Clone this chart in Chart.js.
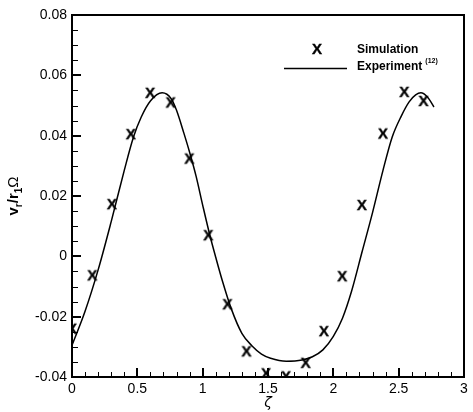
<!DOCTYPE html>
<html>
<head>
<meta charset="utf-8">
<script src="https://cdn.jsdelivr.net/npm/chart.js@4.4.0/dist/chart.umd.min.js"></script>
<style>
html,body{margin:0;padding:0;background:#fff;}
#wrap{width:473px;height:412px;}
</style>
</head>
<body>
<div id="wrap"><canvas id="c" width="473" height="412"></canvas></div>
<script>
// ---- data ----
const simX = [0.0, 0.155, 0.305, 0.45, 0.598, 0.755, 0.898, 1.043, 1.19, 1.335, 1.485, 1.638, 1.788, 1.928, 2.068, 2.218, 2.38, 2.543, 2.69];
const simY = [-0.024, -0.0063, 0.0173, 0.0405, 0.0542, 0.051, 0.0324, 0.007, -0.0159, -0.0315, -0.0388, -0.0398, -0.0353, -0.0248, -0.0066, 0.017, 0.0407, 0.0545, 0.0515];
const expX = [0, 0.1, 0.2, 0.3, 0.4, 0.47, 0.53, 0.6, 0.69, 0.76, 0.8, 0.855, 0.9, 0.95, 1.0, 1.055, 1.1, 1.15, 1.22, 1.3, 1.38, 1.45, 1.52, 1.64, 1.76, 1.84, 1.92, 2.0, 2.07, 2.14, 2.22, 2.3, 2.38, 2.45, 2.52, 2.58, 2.63, 2.67, 2.72, 2.77];
const expY = [-0.0295, -0.0182, -0.0045, 0.0115, 0.0285, 0.0395, 0.0462, 0.0515, 0.0542, 0.0522, 0.0484, 0.041, 0.0345, 0.0265, 0.017, 0.007, -0.0003, -0.008, -0.0175, -0.0255, -0.0298, -0.0324, -0.0338, -0.0348, -0.0344, -0.0333, -0.031, -0.0265, -0.0205, -0.0115, 0.0015, 0.0145, 0.0285, 0.0395, 0.0465, 0.0512, 0.0535, 0.0542, 0.0528, 0.0495];
const xTickLabels = ['0', '0.5', '1', '1.5', '2', '2.5', '3'];
const yTickLabels = ['-0.04', '-0.02', '0', '0.02', '0.04', '0.06', '0.08'];
const xMajor = [0, 0.5, 1, 1.5, 2, 2.5, 3];
const yMajor = [-0.04, -0.02, 0, 0.02, 0.04, 0.06, 0.08];
const xMinorStep = 0.1;
const yMinorStep = 0.005;
const legendLabels = ['Simulation', 'Experiment'];

// X marker glyph
const mk = document.createElement('canvas');
mk.width = 16; mk.height = 16;
(function(){
  const g = mk.getContext('2d');
  g.fillStyle = '#000';
  g.strokeStyle = '#000';
  g.lineWidth = 0.4;
  g.font = 'bold 15px "Liberation Sans", Arial, sans-serif';
  g.textAlign = 'center';
  g.textBaseline = 'middle';
  g.fillText('X', 8, 8.5);
  g.strokeText('X', 8, 8.5);
})();

const decorations = {
  id: 'decorations',
  afterDraw(chart) {
    const ctx = chart.ctx;
    const a = chart.chartArea;
    const xs = chart.scales.x, ys = chart.scales.y;
    ctx.save();
    ctx.strokeStyle = '#000';
    // minor ticks
    ctx.lineWidth = 1;
    ctx.beginPath();
    for (let i = 0; i <= 30; i++) {
      const v = i * xMinorStep;
      if (i % 5 === 0) continue;
      const px = Math.round(xs.getPixelForValue(v)) + 0.5;
      ctx.moveTo(px, a.bottom); ctx.lineTo(px, a.bottom - 5);
    }
    for (let i = 0; i <= 24; i++) {
      const v = -0.04 + i * yMinorStep;
      if (i % 4 === 0) continue;
      const py = Math.round(ys.getPixelForValue(v)) + 0.5;
      ctx.moveTo(a.left, py); ctx.lineTo(a.left + 6, py);
    }
    ctx.stroke();
    // major ticks
    ctx.lineWidth = 2;
    ctx.beginPath();
    xMajor.forEach(v => {
      const px = Math.round(xs.getPixelForValue(v));
      ctx.moveTo(px, a.bottom); ctx.lineTo(px, a.bottom - 9);
    });
    yMajor.forEach(v => {
      const py = Math.round(ys.getPixelForValue(v));
      ctx.moveTo(a.left, py); ctx.lineTo(a.left + 9, py);
    });
    ctx.stroke();
    // frame
    ctx.lineWidth = 2;
    ctx.strokeRect(a.left, a.top, a.right - a.left, a.bottom - a.top);

    // legend
    ctx.fillStyle = '#000';
    ctx.drawImage(mk, 309, 41);
    ctx.font = 'bold 12px "Liberation Sans", Arial, sans-serif';
    ctx.textAlign = 'left';
    ctx.textBaseline = 'middle';
    ctx.fillText(legendLabels[0], 357, 50);
    ctx.fillText(legendLabels[1], 357, 67);
    const w = ctx.measureText(legendLabels[1]).width;
    ctx.font = 'bold 7px "Liberation Sans", Arial, sans-serif';
    ctx.fillText('(12)', 357 + w + 3, 61);
    ctx.lineWidth = 1.5;
    ctx.beginPath();
    ctx.moveTo(284, 68.5); ctx.lineTo(347, 68.5);
    ctx.stroke();

    // y title
    ctx.save();
    ctx.translate(13, (a.top + a.bottom) / 2);
    ctx.rotate(-Math.PI / 2);
    const parts = [
      ['v', 'bold 15px "Liberation Sans", Arial, sans-serif', 0],
      ['r', 'bold 10px "Liberation Sans", Arial, sans-serif', 4],
      ['/r', 'bold 15px "Liberation Sans", Arial, sans-serif', 0],
      ['1', 'bold 10px "Liberation Sans", Arial, sans-serif', 4],
      ['\u03A9', '15px "Liberation Sans", Arial, sans-serif', 0]
    ];
    let total = 0;
    parts.forEach(p => { ctx.font = p[1]; total += ctx.measureText(p[0]).width; });
    let cx = -total / 2;
    ctx.textAlign = 'left';
    ctx.textBaseline = 'alphabetic';
    parts.forEach(p => {
      ctx.font = p[1];
      ctx.fillText(p[0], cx, 5 + p[2]);
      cx += ctx.measureText(p[0]).width;
    });
    ctx.restore();

    // x title
    ctx.font = 'italic 14px "DejaVu Sans", sans-serif';
    ctx.textAlign = 'center';
    ctx.textBaseline = 'middle';
    ctx.fillText('\u03B6', (a.left + a.right) / 2, 403);
    ctx.restore();
  }
};

const tickFont = { family: '"Liberation Sans", Arial, sans-serif', size: 14 };

new Chart(document.getElementById('c'), {
  type: 'scatter',
  data: {
    datasets: [
      {
        label: legendLabels[0],
        data: simX.map((x, i) => ({ x, y: simY[i] })),
        pointStyle: mk,
        pointRadius: 8,
        showLine: false
      },
      {
        label: legendLabels[1],
        data: expX.map((x, i) => ({ x, y: expY[i] })),
        showLine: true,
        borderColor: '#000',
        borderWidth: 1.5,
        pointRadius: 0,
        cubicInterpolationMode: 'monotone',
        fill: false
      }
    ]
  },
  options: {
    responsive: false,
    devicePixelRatio: 1,
    animation: false,
    layout: { padding: { top: 15, right: 5, left: 0, bottom: 0 } },
    plugins: { legend: { display: false }, tooltip: { enabled: false } },
    scales: {
      x: {
        type: 'linear', min: 0, max: 3,
        afterBuildTicks(s) { s.ticks = xMajor.map(v => ({ value: v })); },
        afterFit(s) { s.height = 35; },
        grid: { display: false, drawTicks: false },
        border: { display: false },
        ticks: {
          color: '#000', font: tickFont, padding: 4, maxRotation: 0, autoSkip: false,
          callback: (v, i) => xTickLabels[i]
        }
      },
      y: {
        type: 'linear', min: -0.04, max: 0.08,
        afterBuildTicks(s) { s.ticks = yMajor.map(v => ({ value: v })); },
        afterFit(s) { s.width = 72; },
        grid: { display: false, drawTicks: false },
        border: { display: false },
        ticks: {
          color: '#000', font: tickFont, padding: 5, autoSkip: false,
          callback: (v, i) => yTickLabels[i]
        }
      }
    }
  },
  plugins: [decorations]
});
</script>
</body>
</html>
